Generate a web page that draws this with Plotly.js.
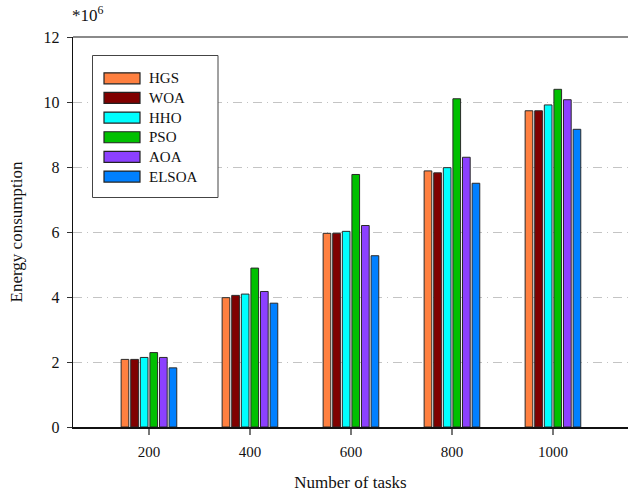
<!DOCTYPE html>
<html>
<head>
<meta charset="utf-8">
<script src="https://cdn.plot.ly/plotly-3.0.1.min.js"></script>
<style>html,body{margin:0;padding:0;background:#fff;}#chart{width:628px;height:492px;}</style>
</head>
<body>
<div id="chart"></div>
<script>
// Data (energy consumption, units of 10^6)
const categories = ['200', '400', '600', '800', '1000'];
const seriesNames = ['HGS', 'WOA', 'HHO', 'PSO', 'AOA', 'ELSOA'];
const HGS   = [2.08, 3.98, 5.96, 7.88, 9.73];
const WOA   = [2.08, 4.05, 5.96, 7.82, 9.73];
const HHO   = [2.14, 4.09, 6.02, 7.98, 9.91];
const PSO   = [2.29, 4.89, 7.77, 10.10, 10.39];
const AOA   = [2.14, 4.17, 6.20, 8.30, 10.07];
const ELSOA = [1.82, 3.81, 5.27, 7.50, 9.16];
const seriesValues = [HGS, WOA, HHO, PSO, AOA, ELSOA];
const colors = ['#FF8040', '#800000', '#00FFFF', '#00C000', '#8C40FF', '#0080FF'];

const W = 628, H = 492;
const M = {l: 73, r: 0, t: 37, b: 65};
const PW = W - M.l - M.r, PH = H - M.t - M.b;
const px = x => (x - M.l) / PW;
const py = y => (H - M.b - y) / PH;

const font = 'Liberation Serif, Times New Roman, serif';

const traces = seriesNames.map((n, i) => ({
  type: 'bar',
  name: n,
  x: categories,
  y: seriesValues[i],
  marker: {color: colors[i], line: {color: '#2a2a2a', width: 1}},
  showlegend: false,
  hoverinfo: 'x+y+name'
}));

// Custom legend (box + wide swatches + labels)
const shapes = [
  {type: 'line', xref: 'paper', yref: 'paper', x0: 0, x1: 1, y0: 1, y1: 1,
   line: {color: '#8a8a8a', width: 2}},
  {type: 'rect', xref: 'paper', yref: 'paper', x0: px(92.5), x1: px(218), y0: py(55.5), y1: py(197.5),
   line: {color: '#444', width: 1}, fillcolor: 'rgba(255,255,255,1)'}
];
const annotations = [
  {xref: 'paper', yref: 'paper', x: px(70), y: py(27), xanchor: 'left', yanchor: 'bottom',
   text: '*10<sup>6</sup>', showarrow: false, font: {family: font, size: 17, color: '#111'}}
];
seriesNames.forEach((n, i) => {
  const cy = 78.3 + i * 19.65;
  shapes.push({type: 'rect', xref: 'paper', yref: 'paper',
    x0: px(104), x1: px(140), y0: py(cy - 5.5), y1: py(cy + 5.5),
    line: {color: '#222', width: 1.2}, fillcolor: colors[i]});
  annotations.push({xref: 'paper', yref: 'paper', x: px(147), y: py(cy), xanchor: 'left', yanchor: 'middle',
    text: n, showarrow: false, font: {family: font, size: 15, color: '#111'}});
});

const layout = {
  width: W, height: H,
  margin: M,
  paper_bgcolor: '#fff', plot_bgcolor: '#fff',
  font: {family: font, color: '#111', size: 14},
  barmode: 'group',
  bargap: 0.43,
  bargroupgap: 0.2,
  xaxis: {
    type: 'category',
    categoryorder: 'array', categoryarray: categories,
    range: [-0.752, 4.743],
    showgrid: false,
    showline: true, linecolor: '#111', linewidth: 1.5,
    ticks: 'outside', ticklen: 6, tickcolor: '#777', tickwidth: 1.5,
    ticklabelstandoff: 4,
    tickfont: {family: font, size: 15, color: '#111'},
    title: {text: 'Number of tasks', font: {family: font, size: 17, color: '#111'}, standoff: 21},
    zeroline: false, fixedrange: true
  },
  yaxis: {
    range: [0, 12],
    tickvals: [0, 2, 4, 6, 8, 10, 12],
    showgrid: true, gridcolor: '#c4c4c4', gridwidth: 1, griddash: '9px,5px,1px,5px',
    showline: true, linecolor: '#111', linewidth: 1.2,
    ticks: 'outside', ticklen: 5, tickcolor: '#333', tickwidth: 1,
    ticklabelstandoff: 4,
    tickfont: {family: font, size: 16, color: '#111'},
    title: {text: 'Energy consumption', font: {family: font, size: 17, color: '#111'}, standoff: 16},
    zeroline: false, fixedrange: true
  },
  shapes: shapes,
  annotations: annotations
};

Plotly.newPlot('chart', traces, layout, {displayModeBar: false, staticPlot: true});
</script>
</body>
</html>
